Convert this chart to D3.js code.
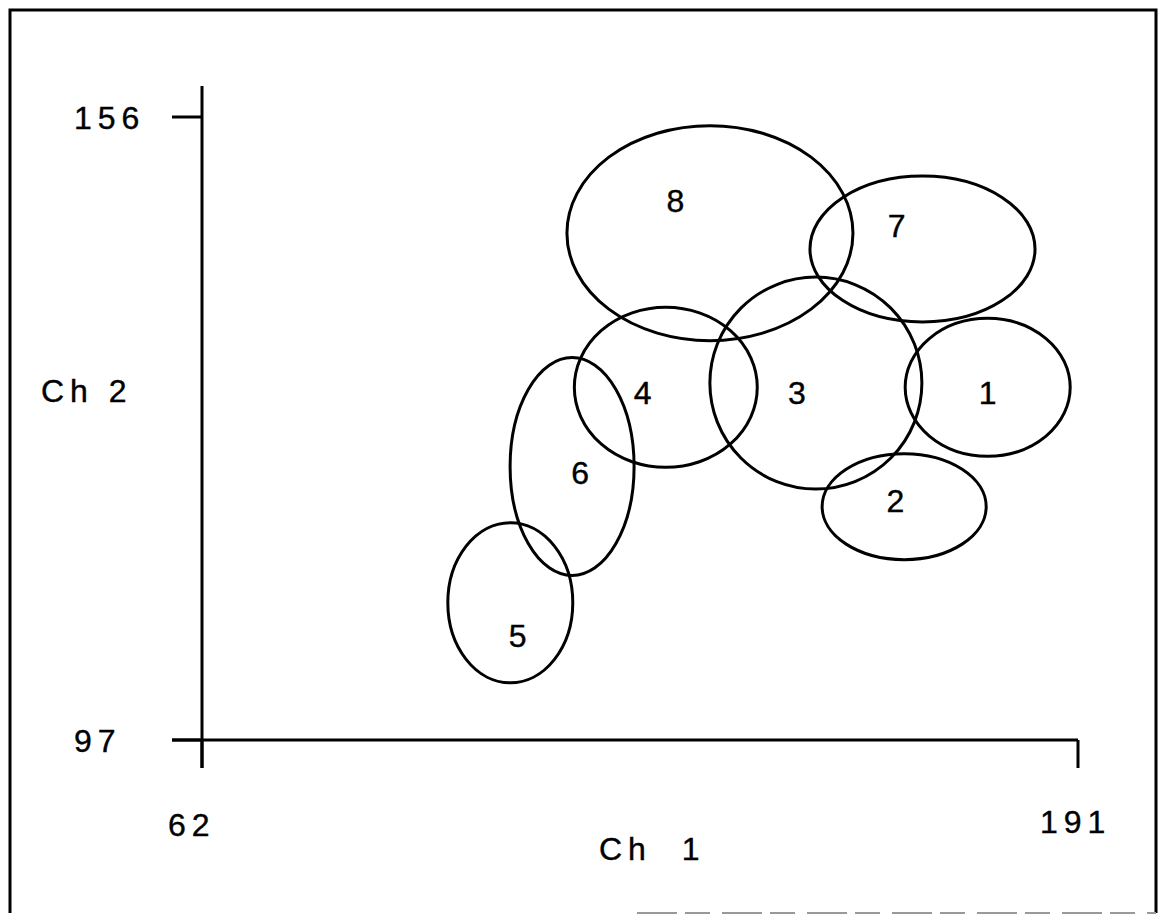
<!DOCTYPE html>
<html>
<head>
<meta charset="utf-8">
<script src="https://cdn.jsdelivr.net/npm/d3@7"></script>
<style>
  body { margin: 0; background: #fff; }
  text { font-family: "Liberation Sans", Arial, sans-serif; fill: #000; stroke: #000; stroke-width: 0.4px; }
</style>
</head>
<body>
<div id="chart"></div>
<script>
var svgWidth = 1160;
var svgHeight = 915;

// cluster ellipses: centre and half-widths in data units
var clusterIds = ["1", "2", "3", "4", "5", "6", "7", "8"];
var centerX = [177.7, 165.4, 152.4, 130.3, 107.4, 116.5, 168.1, 136.8];
var centerY = [130.4, 119.1, 130.8, 130.4, 110.0, 122.9, 143.5, 145.0];
var radiusX = [12.15, 12.08, 15.61, 13.47, 9.2, 9.13, 16.57, 21.06];
var radiusY = [6.53, 5.02, 10.04, 7.58, 7.58, 10.32, 6.91, 10.18];
// label positions (data units)
var labelX = [177.7, 164.1, 149.6, 126.9, 108.5, 117.7, 164.3, 131.7];
var labelY = [130.0, 119.7, 130.0, 130.0, 106.9, 122.4, 145.8, 148.1];

var xTicks = [62, 191];
var yTicks = [97, 156];

var svg = d3.select("#chart")
    .append("svg")
    .attr("width", svgWidth)
    .attr("height", svgHeight);

// frame
svg.append("path")
    .attr("d", "M10,913 L10,10 L1156,10 L1156,913")
    .attr("fill", "none")
    .attr("stroke", "#000")
    .attr("stroke-width", 3);
svg.append("line")
    .attr("x1", 637).attr("x2", 1156)
    .attr("y1", 913).attr("y2", 913)
    .attr("stroke", "#999")
    .attr("stroke-width", 2)
    .attr("stroke-dasharray", "40,8,25,12");

var xScale = d3.scaleLinear().domain([62, 191]).range([202, 1078]);
var yScale = d3.scaleLinear().domain([97, 156]).range([740, 117]);

var lineColor = "#000";
var fontSize = 32;

// y axis
svg.append("line")
    .attr("x1", xScale(62)).attr("x2", xScale(62))
    .attr("y1", 86).attr("y2", 768)
    .attr("stroke", lineColor).attr("stroke-width", 3);
svg.selectAll(".ytick")
    .data(yTicks)
    .enter()
    .append("line")
    .attr("x1", 172).attr("x2", xScale(62))
    .attr("y1", d => yScale(d)).attr("y2", d => yScale(d))
    .attr("stroke", lineColor).attr("stroke-width", 3);

// x axis
svg.append("line")
    .attr("x1", 172).attr("x2", xScale(191))
    .attr("y1", yScale(97)).attr("y2", yScale(97))
    .attr("stroke", lineColor).attr("stroke-width", 3);
svg.selectAll(".xtick")
    .data(xTicks)
    .enter()
    .append("line")
    .attr("x1", d => xScale(d)).attr("x2", d => xScale(d))
    .attr("y1", yScale(97)).attr("y2", 768)
    .attr("stroke", lineColor).attr("stroke-width", 3);

// tick labels
svg.selectAll(".ylab")
    .data(yTicks)
    .enter()
    .append("text")
    .attr("x", 74)
    .attr("y", d => yScale(d) + 12)
    .attr("font-size", fontSize)
    .attr("letter-spacing", 6)
    .text(d => d);

svg.append("text")
    .attr("x", 168).attr("y", 836)
    .attr("font-size", fontSize).attr("letter-spacing", 6)
    .text(xTicks[0]);
svg.append("text")
    .attr("x", 1040).attr("y", 833)
    .attr("font-size", fontSize).attr("letter-spacing", 6)
    .text(xTicks[1]);

// axis titles
svg.append("text")
    .attr("x", 599).attr("y", 860)
    .attr("font-size", fontSize).attr("letter-spacing", 6)
    .attr("xml:space", "preserve")
    .text("Ch  1");
svg.append("text")
    .attr("x", 41).attr("y", 402)
    .attr("font-size", fontSize).attr("letter-spacing", 6)
    .text("Ch 2");

// ellipses
svg.selectAll(".cluster")
    .data(clusterIds)
    .enter()
    .append("ellipse")
    .attr("cx", (d, i) => xScale(centerX[i]))
    .attr("cy", (d, i) => yScale(centerY[i]))
    .attr("rx", (d, i) => xScale(centerX[i] + radiusX[i]) - xScale(centerX[i]))
    .attr("ry", (d, i) => yScale(centerY[i] - radiusY[i]) - yScale(centerY[i]))
    .attr("fill", "none")
    .attr("stroke", lineColor)
    .attr("stroke-width", 3);

svg.selectAll(".clabel")
    .data(clusterIds)
    .enter()
    .append("text")
    .attr("x", (d, i) => xScale(labelX[i]))
    .attr("y", (d, i) => yScale(labelY[i]) + 12)
    .attr("text-anchor", "middle")
    .attr("font-size", fontSize)
    .text(d => d);
</script>
</body>
</html>
